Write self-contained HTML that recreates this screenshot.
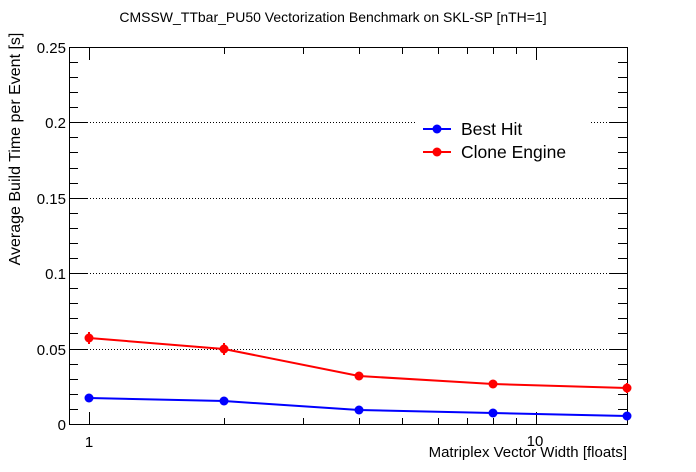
<!DOCTYPE html>
<html><head><style>body{margin:0;background:#fff}svg{display:block}text{font-family:"Liberation Sans",sans-serif;fill:#000}</style></head>
<body>
<svg width="696" height="472" xmlns="http://www.w3.org/2000/svg">
<rect width="696" height="472" fill="#fff"/>
<text x="333" y="22" font-size="14" text-anchor="middle">CMSSW_TTbar_PU50 Vectorization Benchmark on SKL-SP [nTH=1]</text>
<g stroke="#000" stroke-dasharray="1,2" stroke-width="1">
<line x1="87" y1="122.5" x2="609" y2="122.5"/>
<line x1="87" y1="198.5" x2="609" y2="198.5"/>
<line x1="87" y1="273.5" x2="609" y2="273.5"/>
<line x1="87" y1="349.5" x2="609" y2="349.5"/>
</g>
<rect x="416" y="112" width="174" height="56" fill="#fff"/>
<rect x="69.5" y="47.5" width="558" height="377" fill="none" stroke="#000"/>
<g stroke="#000" stroke-width="1">
<path d="M69 47.5h18M69 122.5h18M69 198.5h18M69 273.5h18M69 349.5h18M69 424.5h18
M69 62.5h9M69 77.5h9M69 92.5h9M69 107.5h9M69 137.5h9M69 152.5h9M69 168.5h9M69 183.5h9M69 213.5h9M69 228.5h9M69 243.5h9M69 258.5h9M69 288.5h9M69 303.5h9M69 318.5h9M69 333.5h9M69 364.5h9M69 379.5h9M69 394.5h9M69 409.5h9"/>
<path d="M627 47.5h-18M627 122.5h-18M627 198.5h-18M627 273.5h-18M627 349.5h-18M627 424.5h-18
M627 62.5h-9M627 77.5h-9M627 92.5h-9M627 107.5h-9M627 137.5h-9M627 152.5h-9M627 168.5h-9M627 183.5h-9M627 213.5h-9M627 228.5h-9M627 243.5h-9M627 258.5h-9M627 288.5h-9M627 303.5h-9M627 318.5h-9M627 333.5h-9M627 364.5h-9M627 379.5h-9M627 394.5h-9M627 409.5h-9"/>
<path d="M89.5 424v-12M224.5 424v-6M303.5 424v-6M359.5 424v-6M402.5 424v-6M438.5 424v-6M467.5 424v-6M493.5 424v-6M516.5 424v-6M536.5 424v-12"/>
<path d="M89.5 48v12M224.5 48v6M303.5 48v6M359.5 48v6M402.5 48v6M438.5 48v6M467.5 48v6M493.5 48v6M516.5 48v6M536.5 48v12"/>
</g>
<g font-size="15" text-anchor="end">
<text x="66" y="53">0.25</text><text x="66" y="128">0.2</text><text x="66" y="204">0.15</text><text x="66" y="279">0.1</text><text x="66" y="355">0.05</text><text x="66" y="430">0</text>
</g>
<text x="89" y="447" font-size="15" text-anchor="middle">1</text>
<text x="535" y="446" font-size="15" text-anchor="middle">10</text>
<text x="627" y="457" font-size="15" text-anchor="end">Matriplex Vector Width [floats]</text>
<text transform="translate(20,149) rotate(-90)" font-size="16" text-anchor="middle">Average Build Time per Event [s]</text>
<polyline points="89,398 224,401 359,410 493,413 627,416" fill="none" stroke="#00f" stroke-width="2"/>
<polyline points="89,338 224,349 359,376 493,384 627,388" fill="none" stroke="#f00" stroke-width="2"/>
<g fill="#00f"><circle cx="89" cy="398" r="4.5"/><circle cx="224" cy="401" r="4.5"/><circle cx="359" cy="410" r="4.5"/><circle cx="493" cy="413" r="4.5"/><circle cx="627" cy="416" r="4.5"/></g>
<g stroke="#f00" stroke-width="2"><path d="M89 332v12M224 343v12M627 383v10"/></g>
<g fill="#f00"><circle cx="89" cy="338" r="4.5"/><circle cx="224" cy="349" r="4.5"/><circle cx="359" cy="376" r="4.5"/><circle cx="493" cy="384" r="4.5"/><circle cx="627" cy="388" r="4.5"/></g>
<line x1="423" y1="129" x2="451" y2="129" stroke="#00f" stroke-width="2"/><circle cx="437" cy="129" r="4.5" fill="#00f"/>
<line x1="423" y1="152" x2="451" y2="152" stroke="#f00" stroke-width="2"/><circle cx="437" cy="152" r="4.5" fill="#f00"/>
<text x="461" y="135" font-size="17.5">Best Hit</text>
<text x="461" y="158" font-size="17.5">Clone Engine</text>
</svg>
</body></html>
